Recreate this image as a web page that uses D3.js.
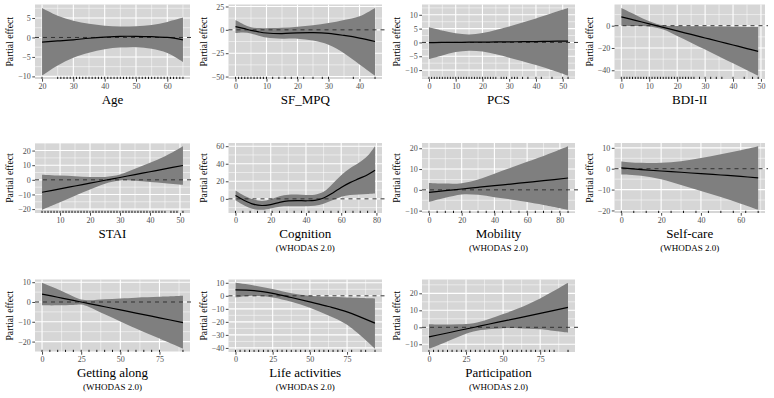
<!DOCTYPE html>
<html>
<head>
<meta charset="utf-8">
<style>
  body { margin: 0; background: #fff; }
</style>
</head>
<body>
<script src="https://d3js.org/d3.v7.min.js"></script>
<script>
  // Age
  const ageX   = [20, 25, 30, 35, 40, 45, 50, 55, 60, 65];
  const ageFit = [-1.2, -0.9, -0.6, -0.2, 0.1, 0.3, 0.3, 0.2, 0.0, -0.6];
  const ageHi  = [7.6, 5.6, 4.3, 3.5, 3.0, 2.8, 2.9, 3.2, 4.0, 5.1];
  const ageLo  = [-9.8, -7.2, -5.2, -3.9, -3.0, -2.6, -2.5, -2.9, -4.0, -6.3];
  const ageRug = [20, 25, 26, 27, 28, 29, 30, 31, 32, 33, 34, 35, 36, 37, 38, 39, 40, 41, 42, 43, 44, 45,
                  46, 47, 48, 49, 50, 51, 52, 53, 54, 55, 56, 57, 58, 59, 60, 61, 62, 63, 64, 65];

  // SF_MPQ
  const sfX   = [0, 2.5, 5, 7.5, 10, 15, 20, 25, 30, 35, 40, 45];
  const sfFit = [3.5, 1.6, -0.5, -2.2, -3.4, -4.0, -3.2, -3.0, -3.8, -6.0, -8.8, -12.5];
  const sfHi  = [10.5, 6.1, 2.8, 1.9, 1.8, 2.2, 3.4, 5.0, 7.2, 10.5, 14.5, 23.5];
  const sfLo  = [-3.5, -2.9, -3.8, -6.3, -8.3, -9.5, -9.5, -11.5, -16, -25, -37, -49];
  const sfRug = [0, 1, 2, 3, 4, 5, 6, 7, 8, 9, 10, 12, 14, 16, 18, 20, 22, 25, 28, 30, 38, 45];

  // PCS
  const pcsX   = [0, 5, 10, 15, 20, 25, 30, 35, 40, 45, 52];
  const pcsFit = [-0.1, 0, 0, 0.1, 0.1, 0.2, 0.2, 0.3, 0.3, 0.4, 0.5];
  const pcsHi  = [5.5, 4.3, 3.3, 2.9, 3.4, 4.5, 5.8, 7.2, 8.7, 10.3, 12.5];
  const pcsLo  = [-6.0, -4.7, -3.5, -3.0, -3.3, -4.3, -5.5, -6.8, -8.2, -9.7, -12.0];
  const pcsRug = [0, 1, 2, 3, 4, 5, 6, 7, 8, 9, 10, 11, 12, 13, 14, 15, 16, 17, 18, 19, 20, 21, 22, 23, 24, 25,
                  27, 28, 29, 31, 32, 33, 35, 37, 40, 42, 46, 50, 52];

  // BDI-II
  const bdiX   = [0, 5, 10, 15, 20, 25, 30, 35, 40, 45, 49];
  const bdiFit = [8, 4.8, 1.7, -1.5, -4.7, -7.8, -11, -14.2, -17.3, -20.5, -23];
  const bdiHi  = [16, 9.9, 4.1, 0.4, -0.2, -0.4, -0.6, -0.8, -0.9, -1.1, -1.2];
  const bdiLo  = [0, -0.3, -0.7, -3.4, -9.2, -15.2, -21.4, -27.6, -33.7, -39.9, -44.8];
  const bdiRug = [0, 1, 2, 3, 4, 5, 6, 7, 8, 9, 10, 11, 12, 13, 14, 15, 16, 17, 18, 19, 20, 21, 22, 23, 24, 25, 26,
                  28, 30, 32, 34, 36, 40, 44, 47, 49];

  // STAI
  const staiX   = [4, 10, 15, 20, 25, 30, 35, 40, 45, 51];
  const staiFit = [-8.5, -6.2, -4.2, -2.3, -0.3, 1.6, 3.6, 5.5, 7.5, 9.8];
  const staiHi  = [3.5, 2.9, 2.5, 2.0, 2.0, 3.7, 7.5, 11.7, 16.1, 23];
  const staiLo  = [-20.5, -15.3, -10.9, -6.6, -2.6, -0.5, -0.6, -1.5, -2.3, -3.4];
  const staiRug = [4, 5, 6, 7, 8, 9, 10, 11, 12, 13, 14, 15, 16, 17, 18, 19, 20, 21, 22, 23, 24, 25, 26, 27,
                   28, 29, 30, 31, 32, 33, 34, 35, 36, 37, 38, 39, 40, 41, 42, 43, 44, 45, 47, 48, 49, 51];

  // Cognition (WHODAS 2.0)
  const cogX   = [0, 5, 10, 15, 20, 25, 30, 35, 40, 45, 50, 55, 60, 65, 70, 75, 79.2];
  const cogFit = [3.8, -1.8, -6.0, -7.6, -6.5, -4.0, -2.4, -2.0, -2.2, -1.8, 1.0, 6.5, 13.0, 18.5, 23.0, 27.5, 32.5];
  const cogHi  = [9.5, 3.5, -0.5, -2.5, -0.5, 3.0, 4.8, 5.0, 4.5, 4.8, 8, 17, 27, 35, 41, 49, 60];
  const cogLo  = [-1.5, -7.5, -11.5, -12.5, -11.0, -9.0, -8.5, -8.5, -8.5, -8.0, -5.5, -1.5, 2.5, 4.5, 5.0, 5.5, 6.0];
  const cogRug = [0, 4.2, 8.3, 12.5, 16.7, 20.8, 25, 29.2, 33.3, 37.5, 41.7, 45.8, 50, 54.2, 58.3, 62.5,
                  66.7, 70.8, 75, 79.2];

  // Mobility (WHODAS 2.0)
  const mobX   = [0, 10, 20, 30, 40, 50, 60, 70, 85];
  const mobFit = [-1.2, -0.4, 0.4, 1.2, 2.0, 2.8, 3.6, 4.4, 5.7];
  const mobHi  = [3.3, 3.0, 3.2, 5.0, 7.8, 10.6, 13.5, 16.3, 21];
  const mobLo  = [-5.8, -3.8, -2.2, -2.4, -3.5, -4.6, -5.9, -7.3, -9.6];
  const mobRug = [0, 5, 10, 15, 20, 25, 30, 35, 40, 45, 50, 55, 60, 65, 70, 75, 80, 85];

  // Self-care (WHODAS 2.0)
  const scX   = [0, 10, 20, 30, 40, 50, 60, 68.75];
  const scFit = [0.4, -0.4, -1.1, -1.7, -2.4, -3.0, -3.7, -4.4];
  const scHi  = [3.5, 2.8, 2.8, 3.6, 5.1, 6.9, 8.9, 10.8];
  const scLo  = [-2.8, -3.4, -5.0, -7.8, -10.7, -13.6, -16.8, -19.7];
  const scRug = [0, 6.25, 12.5, 18.75, 25, 31.25, 37.5, 43.75, 50, 56.25, 62.5, 68.75];

  // Getting along (WHODAS 2.0)
  const gaX   = [0, 10, 20, 25, 30, 40, 50, 60, 75, 90];
  const gaFit = [4.0, 2.4, 0.8, 0, -0.8, -2.4, -4.0, -5.6, -8.0, -10.4];
  const gaHi  = [9.7, 6.4, 2.8, 1.3, 0.9, 1.4, 1.8, 2.2, 2.6, 3.1];
  const gaLo  = [-1.7, -1.7, -1.5, -1.3, -2.5, -6.2, -9.8, -13.4, -18.5, -23.6];
  const gaRug = [0, 5, 10, 15, 20, 25, 30, 35, 40, 45, 50, 55, 60, 65, 70, 75, 90];

  // Life activities (WHODAS 2.0)
  const laX   = [0, 12.5, 25, 37.5, 50, 62.5, 75, 93.75];
  const laFit = [4.5, 4.0, 1.9, -1.3, -4.7, -8.2, -12.3, -21];
  const laHi  = [10, 8.0, 5.3, 2.0, 0, -0.8, -1.3, -2];
  const laLo  = [-1.3, 0, -1.3, -4.6, -9.1, -15.2, -22.3, -40.6];
  const laRug = [0, 3.1, 6.3, 9.4, 12.5, 15.6, 18.8, 21.9, 25, 28.1, 31.3, 34.4, 37.5, 40.6, 43.8, 46.9, 50,
                 53.1, 56.3, 59.4, 62.5, 65.6, 68.8, 71.9, 78.1, 84.4, 87.5, 93.8];

  // Participation (WHODAS 2.0)
  const paX   = [0, 10, 20, 30, 40, 50, 60, 75, 93.75];
  const paFit = [-5.6, -3.8, -1.9, -0.1, 1.8, 3.6, 5.4, 8.2, 11.7];
  const paHi  = [1.8, 1.6, 1.8, 2.4, 4.8, 7.8, 11.0, 17.0, 26.2];
  const paLo  = [-12.6, -9.2, -5.5, -2.5, -1.2, -0.6, -0.5, -1.2, -3.2];
  const paRug = [0, 3.1, 6.3, 9.4, 12.5, 15.6, 18.8, 21.9, 25, 28.1, 31.3, 34.4, 37.5, 40.6, 43.8, 46.9, 50,
                 53.1, 56.3, 59.4, 62.5, 65.6, 68.8, 71.9, 75, 78.1, 81.3, 84.4, 93.8];

  const panels = [
    { title: 'Age', sub: null, x: ageX, fit: ageFit, hi: ageHi, lo: ageLo, rug: ageRug,
      xTicks: [20, 30, 40, 50, 60], yTicks: [-10, -5, 0, 5] },
    { title: 'SF_MPQ', sub: null, x: sfX, fit: sfFit, hi: sfHi, lo: sfLo, rug: sfRug,
      xTicks: [0, 10, 20, 30, 40], yTicks: [-50, -25, 0, 25] },
    { title: 'PCS', sub: null, x: pcsX, fit: pcsFit, hi: pcsHi, lo: pcsLo, rug: pcsRug,
      xTicks: [0, 10, 20, 30, 40, 50], yTicks: [-10, -5, 0, 5, 10] },
    { title: 'BDI-II', sub: null, x: bdiX, fit: bdiFit, hi: bdiHi, lo: bdiLo, rug: bdiRug,
      xTicks: [0, 10, 20, 30, 40, 50], yTicks: [-40, -20, 0] },
    { title: 'STAI', sub: null, x: staiX, fit: staiFit, hi: staiHi, lo: staiLo, rug: staiRug,
      xTicks: [10, 20, 30, 40, 50], yTicks: [-20, -10, 0, 10, 20] },
    { title: 'Cognition', sub: '(WHODAS 2.0)', x: cogX, fit: cogFit, hi: cogHi, lo: cogLo, rug: cogRug,
      xTicks: [0, 20, 40, 60, 80], yTicks: [0, 20, 40, 60] },
    { title: 'Mobility', sub: '(WHODAS 2.0)', x: mobX, fit: mobFit, hi: mobHi, lo: mobLo, rug: mobRug,
      xTicks: [0, 20, 40, 60, 80], yTicks: [-10, 0, 10, 20] },
    { title: 'Self-care', sub: '(WHODAS 2.0)', x: scX, fit: scFit, hi: scHi, lo: scLo, rug: scRug,
      xTicks: [0, 20, 40, 60], yTicks: [-20, -10, 0, 10] },
    { title: 'Getting along', sub: '(WHODAS 2.0)', x: gaX, fit: gaFit, hi: gaHi, lo: gaLo, rug: gaRug,
      xTicks: [0, 25, 50, 75], yTicks: [-20, -10, 0, 10] },
    { title: 'Life activities', sub: '(WHODAS 2.0)', x: laX, fit: laFit, hi: laHi, lo: laLo, rug: laRug,
      xTicks: [0, 25, 50, 75], yTicks: [-40, -30, -20, -10, 0, 10] },
    { title: 'Participation', sub: '(WHODAS 2.0)', x: paX, fit: paFit, hi: paHi, lo: paLo, rug: paRug,
      xTicks: [0, 25, 50, 75], yTicks: [-10, 0, 10, 20] }
  ];

  // grid layout of the panels
  const colLeft = [35, 228.5, 422, 614.5];
  const colRight = [190, 382, 575, 765];
  const rowTop = [4.5, 143, 279.5];
  const rowBottom = [79, 213, 352];

  const font = '"Liberation Serif", "DejaVu Serif", Lato, sans-serif';
  const fmt = d => d < 0 ? '\u2212' + Math.abs(d) : String(d);

  // ggplot-style 5% expansion
  function expand(ext) {
    const pad = (ext[1] - ext[0]) * 0.05;
    return [ext[0] - pad, ext[1] + pad];
  }

  // midpoints between major breaks (plus one each side), kept inside the domain
  function minors(ticks, dom) {
    const step = ticks[1] - ticks[0];
    const out = [];
    for (let v = ticks[0] - step / 2; v <= dom[1]; v += step) {
      if (v >= dom[0]) out.push(v);
    }
    return out;
  }

  const svg = d3.select('body').append('svg')
    .attr('width', 774)
    .attr('height', 398)
    .style('font-family', font);

  panels.forEach((p, i) => {
    const row = Math.floor(i / 4), col = i % 4;
    const left = colLeft[col], right = colRight[col];
    const top = rowTop[row], bottom = rowBottom[row];

    const xScale = d3.scaleLinear()
      .domain(expand(d3.extent(p.x.concat(p.rug))))
      .range([left, right]);
    const yScale = d3.scaleLinear()
      .domain(expand([d3.min(p.lo), d3.max(p.hi)]))
      .range([bottom, top]);

    const g = svg.append('g');

    g.append('rect')
      .attr('x', left).attr('y', top)
      .attr('width', right - left).attr('height', bottom - top)
      .attr('fill', '#d6d6d6');

    const grid = g.append('g').attr('stroke', '#fff');
    grid.selectAll('.vmin').data(minors(p.xTicks, xScale.domain())).join('line')
      .attr('x1', d => xScale(d)).attr('x2', d => xScale(d))
      .attr('y1', top).attr('y2', bottom)
      .attr('stroke-width', 0.5);
    grid.selectAll('.hmin').data(minors(p.yTicks, yScale.domain())).join('line')
      .attr('y1', d => yScale(d)).attr('y2', d => yScale(d))
      .attr('x1', left).attr('x2', right)
      .attr('stroke-width', 0.5);
    grid.selectAll('.vmaj').data(p.xTicks).join('line')
      .attr('x1', d => xScale(d)).attr('x2', d => xScale(d))
      .attr('y1', top).attr('y2', bottom)
      .attr('stroke-width', 1.1);
    grid.selectAll('.hmaj').data(p.yTicks).join('line')
      .attr('y1', d => yScale(d)).attr('y2', d => yScale(d))
      .attr('x1', left).attr('x2', right)
      .attr('stroke-width', 1.1);

    const pts = p.x.map((x, k) => ({ x, fit: p.fit[k], hi: p.hi[k], lo: p.lo[k] }));

    g.append('path')
      .datum(pts)
      .attr('fill', '#7f7f7f')
      .attr('d', d3.area()
        .curve(d3.curveCatmullRom)
        .x(d => xScale(d.x))
        .y0(d => yScale(d.lo))
        .y1(d => yScale(d.hi)));

    g.append('line')
      .attr('x1', left).attr('x2', right + 3)
      .attr('y1', yScale(0)).attr('y2', yScale(0))
      .attr('stroke', '#333')
      .attr('stroke-width', 1)
      .attr('stroke-dasharray', '4,4');

    g.append('path')
      .datum(pts)
      .attr('fill', 'none')
      .attr('stroke', '#000')
      .attr('stroke-width', 1.2)
      .attr('d', d3.line()
        .curve(d3.curveCatmullRom)
        .x(d => xScale(d.x))
        .y(d => yScale(d.fit)));

    g.append('g').selectAll('line').data(p.rug).join('line')
      .attr('x1', d => xScale(d)).attr('x2', d => xScale(d))
      .attr('y1', bottom).attr('y2', bottom - 2.2)
      .attr('stroke', '#000')
      .attr('stroke-width', 0.9);

    // axes
    const xAxis = g.append('g')
      .attr('transform', `translate(0,${bottom})`)
      .call(d3.axisBottom(xScale).tickValues(p.xTicks).tickFormat(fmt).tickSize(2.7).tickPadding(1.5));
    const yAxis = g.append('g')
      .attr('transform', `translate(${left},0)`)
      .call(d3.axisLeft(yScale).tickValues(p.yTicks).tickFormat(fmt).tickSize(2.7).tickPadding(1.5));
    [xAxis, yAxis].forEach(a => {
      a.attr('font-family', null).attr('font-size', 8);
      a.select('.domain').remove();
      a.selectAll('.tick line').attr('stroke', '#333').attr('stroke-width', 0.9);
      a.selectAll('.tick text').attr('fill', '#4d4d4d');
    });

    const cx = (left + right) / 2;
    g.append('text')
      .attr('x', cx).attr('y', bottom + 25)
      .attr('text-anchor', 'middle')
      .attr('font-size', 13)
      .text(p.title);
    if (p.sub) {
      g.append('text')
        .attr('x', cx).attr('y', bottom + 37.5)
        .attr('text-anchor', 'middle')
        .attr('font-size', 9)
        .text(p.sub);
    }

    g.append('text')
      .attr('transform', `translate(${left - 22},${(top + bottom) / 2}) rotate(-90)`)
      .attr('text-anchor', 'middle')
      .attr('font-size', 9.7)
      .text('Partial effect');
  });
</script>
</body>
</html>
